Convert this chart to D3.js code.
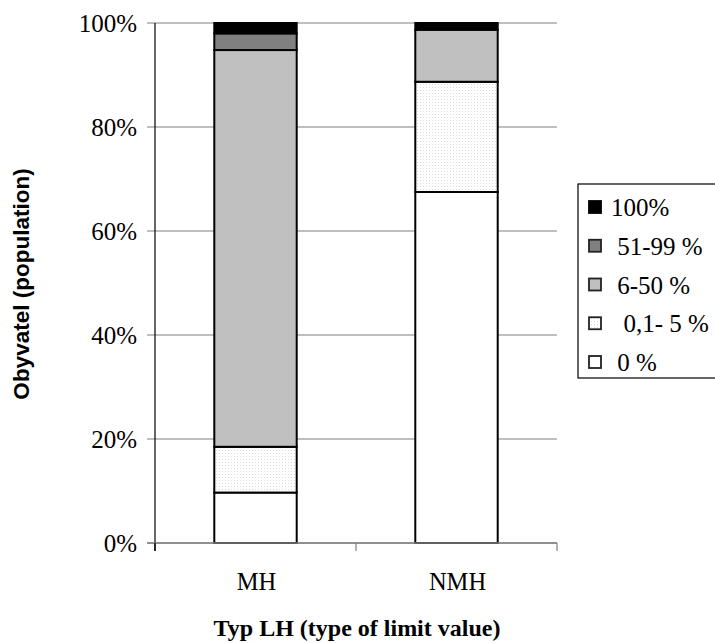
<!DOCTYPE html>
<html>
<head>
<meta charset="utf-8">
<script src="https://cdn.jsdelivr.net/npm/d3@7"></script>
<style>
  html, body { margin: 0; padding: 0; background: #fff; }
  svg { display: block; }
</style>
</head>
<body>
<svg id="chart" width="715" height="643"></svg>
<script>
// Categories on the x axis
const categories = ["MH", "NMH"];
// Share groups, bottom to top of each stacked column
const groups = ["0 %", "0,1- 5 %", "6-50 %", "51-99 %", "100%"];
// Percent of population per group, one array per category
const valuesMH  = [9.7, 8.8, 76.3, 3.2, 2.0];
const valuesNMH = [67.5, 21.2, 10.0, 0.0, 1.3];
const yTicks = [0, 20, 40, 60, 80, 100];
// Legend entries, top to bottom, with the label text as shown
const legendOrder = ["100%", "51-99 %", "6-50 %", "0,1- 5 %", "0 %"];
const legendLabels = ["100%", " 51-99 %", " 6-50 %", "  0,1- 5 %", " 0 %"];

const SERIF = "'Liberation Serif', 'Times New Roman', serif";
const SANS = "'Liberation Sans', Arial, sans-serif";

const svg = d3.select("#chart");

// Dotted fill for the 0,1-5 % group
const defs = svg.append("defs");
const pat = defs.append("pattern")
  .attr("id", "dots").attr("patternUnits", "userSpaceOnUse")
  .attr("width", 3).attr("height", 3);
pat.append("rect").attr("width", 3).attr("height", 3).attr("fill", "#ffffff");
pat.append("rect").attr("x", 0).attr("y", 0).attr("width", 1).attr("height", 1).attr("fill", "#dcdcdc");

const fills = {
  "0 %": "#ffffff",
  "0,1- 5 %": "url(#dots)",
  "6-50 %": "#c0c0c0",
  "51-99 %": "#808080",
  "100%": "#000000"
};

const plot = { left: 155, right: 557, top: 23, bottom: 543 };

const x = d3.scaleBand().domain(categories).range([plot.left, plot.right]).paddingInner(0).paddingOuter(0);
const y = d3.scaleLinear().domain([0, 100]).range([plot.bottom, plot.top]);
const barW = x.bandwidth() * 0.41;

// Gridlines with outward ticks
const grid = svg.append("g");
yTicks.forEach(t => {
  grid.append("line")
    .attr("x1", plot.left - 8).attr("x2", plot.right)
    .attr("y1", y(t)).attr("y2", y(t))
    .attr("stroke", "#808080").attr("stroke-width", 1.2);
});

// Y tick labels
svg.append("g").selectAll("text").data(yTicks).join("text")
  .attr("x", plot.left - 18).attr("y", d => y(d) + 8.5)
  .attr("text-anchor", "end")
  .style("font-family", SERIF)
  .attr("font-size", 25)
  .text(d => d + "%");

// Stacked bars
const table = categories.map((c, i) => {
  const vals = i === 0 ? valuesMH : valuesNMH;
  const row = { cat: c };
  groups.forEach((g, j) => row[g] = vals[j]);
  return row;
});
const stack = d3.stack().keys(groups)(table);

const bars = svg.append("g");
stack.forEach(layer => {
  layer.forEach(seg => {
    const h = y(seg[0]) - y(seg[1]);
    if (h <= 0) return;
    bars.append("rect")
      .attr("x", x(seg.data.cat) + (x.bandwidth() - barW) / 2)
      .attr("y", y(seg[1]))
      .attr("width", barW)
      .attr("height", h)
      .attr("fill", fills[layer.key])
      .attr("stroke", "#000").attr("stroke-width", 2);
  });
});

// Axis lines
svg.append("line")
  .attr("x1", plot.left).attr("x2", plot.left)
  .attr("y1", plot.top).attr("y2", plot.bottom + 8)
  .attr("stroke", "#000").attr("stroke-width", 1.2);
svg.append("line")
  .attr("x1", plot.left - 8).attr("x2", plot.right)
  .attr("y1", plot.bottom).attr("y2", plot.bottom)
  .attr("stroke", "#808080").attr("stroke-width", 1.5);
// Category boundary ticks
[plot.left, ...categories.map(c => x(c) + x.bandwidth())].forEach(px => {
  svg.append("line")
    .attr("x1", px).attr("x2", px)
    .attr("y1", plot.bottom).attr("y2", plot.bottom + 8)
    .attr("stroke", px === plot.left ? "#000" : "#808080").attr("stroke-width", 1.2);
});

// Category labels
svg.append("g").selectAll("text").data(categories).join("text")
  .attr("x", d => x(d) + x.bandwidth() / 2 + 1).attr("y", 590)
  .attr("text-anchor", "middle")
  .style("font-family", SERIF)
  .attr("font-size", 24.5)
  .text(d => d);

// Axis titles
svg.append("text")
  .attr("x", 357).attr("y", 636)
  .attr("text-anchor", "middle")
  .style("font-family", SERIF)
  .attr("font-weight", "bold").attr("font-size", 24)
  .text("Typ LH (type of limit value)");

svg.append("text")
  .attr("transform", "translate(29, 284) rotate(-90)")
  .attr("text-anchor", "middle")
  .style("font-family", SANS)
  .attr("font-weight", "bold").attr("font-size", 22.5)
  .text("Obyvatel (population)");

// Legend
const lg = svg.append("g");
lg.append("rect")
  .attr("x", 578).attr("y", 184).attr("width", 150).attr("height", 194)
  .attr("fill", "#fff").attr("stroke", "#000").attr("stroke-width", 1.2);
legendOrder.forEach((g, i) => {
  const base = 216 + i * 38.75;
  lg.append("rect")
    .attr("x", 589).attr("y", base - 15).attr("width", 12).attr("height", 12)
    .attr("fill", fills[g]).attr("stroke", g === "100%" ? "#000" : "#222").attr("stroke-width", 1.8);
  lg.append("text")
    .attr("x", 611).attr("y", base)
    .style("font-family", SERIF)
    .style("white-space", "pre")
    .attr("font-size", 25)
    .text(legendLabels[i]);
});
</script>
</body>
</html>
